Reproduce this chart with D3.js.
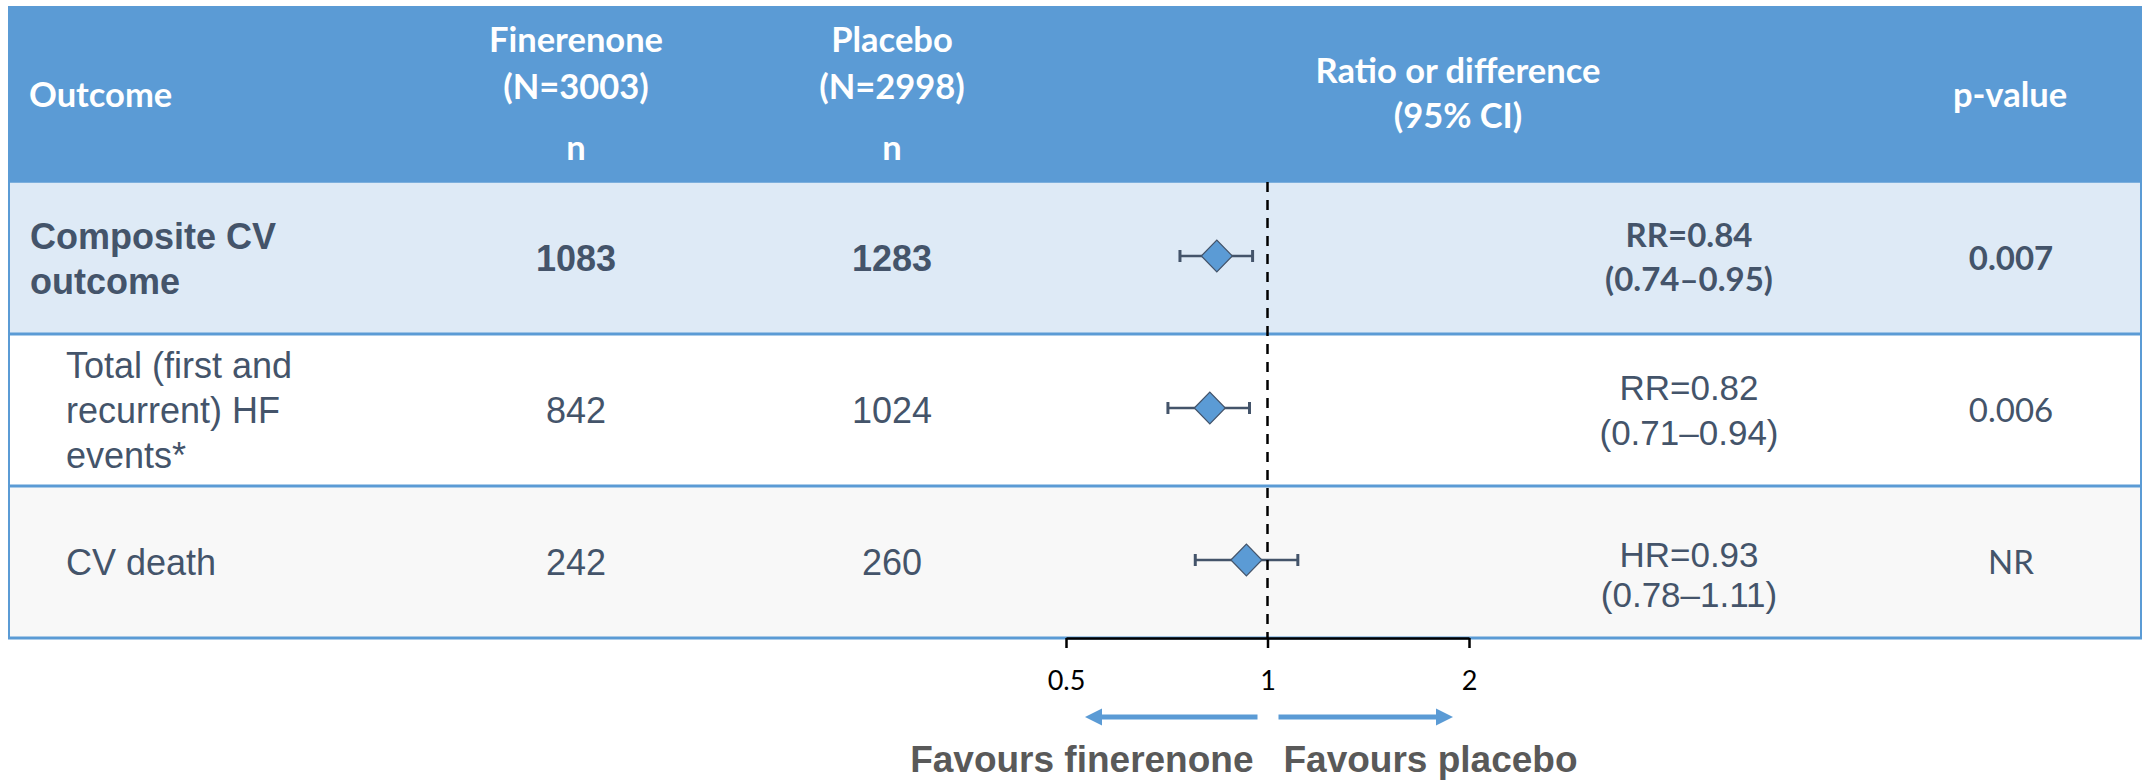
<!DOCTYPE html>
<html>
<head>
<meta charset="utf-8">
<script src="https://cdn.jsdelivr.net/npm/d3@7"></script>
<style>
  body { margin: 0; background: #ffffff; }
  svg { display: block; }
</style>
</head>
<body>
<svg id="chart" width="2146" height="781"></svg>
<script>
// ---- data ----
const outcomeLines   = [["Composite CV", "outcome"], ["Total (first and", "recurrent) HF", "events*"], ["CV death"]];
const finerenoneN    = [1083, 842, 242];
const placeboN       = [1283, 1024, 260];
const measureType    = ["RR", "RR", "HR"];
const estimate       = [0.84, 0.82, 0.93];
const ciLower        = [0.74, 0.71, 0.78];
const ciUpper        = [0.95, 0.94, 1.11];
const pValues        = ["0.007", "0.006", "NR"];
const axisTicks      = [0.5, 1, 2];
const finerenoneHead = ["Finerenone", "(N=3003)"];
const placeboHead    = ["Placebo", "(N=2998)"];
const effectHead     = ["Ratio or difference", "(95% CI)"];
const favourLabels   = ["Favours finerenone", "Favours placebo"];

// ---- layout ----
const W = 2146, H = 781;
const tableLeft = 8, tableRight = 2142;
const headTop = 6, headBottom = 182, tableBottom = 638;
const colFin = 576, colPla = 892, colEff = 1689, colP = 2011;
const headerBlue = "#5B9BD5", textDark = "#44546A";
const rowFill = ["#DEEAF6", "#FFFFFF", "#F8F8F8"];
const arial = "'Liberation Sans', Arial, sans-serif";
const calibri = "Lato, 'Open Sans', sans-serif";
// first-line baseline (relative to row middle) and line step of the effect-estimate cell
const effFirst = [-11, -10, 5];
const effStep  = [44, 45, 40];

const svg = d3.select("#chart");
svg.append("rect").attr("width", W).attr("height", H).attr("fill", "#ffffff");

const rows = d3.range(outcomeLines.length);
const y = d3.scaleBand().domain(rows).range([headBottom, tableBottom]);
const x = d3.scaleLog().domain([0.5, 2]).range([1066, 1469]);
const rowMid = i => y(i) + y.bandwidth() / 2;

// header band
svg.append("rect")
  .attr("x", tableLeft).attr("y", headTop)
  .attr("width", tableRight - tableLeft).attr("height", headBottom - headTop)
  .attr("fill", headerBlue);

const head = svg.append("g")
  .attr("fill", "#ffffff")
  .attr("font-family", calibri)
  .attr("font-weight", 700)
  .attr("font-size", 34.5);

head.append("text").attr("x", 29).attr("y", 107).text("Outcome");
[[colFin, finerenoneHead], [colPla, placeboHead]].forEach(([cx, lines]) => {
  lines.forEach((t, k) => head.append("text")
    .attr("x", cx).attr("y", 52 + k * 47).attr("text-anchor", "middle").text(t));
  head.append("text").attr("x", cx).attr("y", 160).attr("text-anchor", "middle").text("n");
});
effectHead.forEach((t, k) => head.append("text")
  .attr("x", 1458).attr("y", 83 + k * 45).attr("text-anchor", "middle").text(t));
head.append("text").attr("x", 2010).attr("y", 107).attr("text-anchor", "middle").text("p-value");

// row backgrounds
svg.append("g").selectAll("rect").data(rows).join("rect")
  .attr("x", tableLeft).attr("y", i => y(i))
  .attr("width", tableRight - tableLeft).attr("height", y.bandwidth())
  .attr("fill", i => rowFill[i]);

// table rules
const rules = svg.append("g").attr("stroke", headerBlue).attr("fill", "none");
rules.append("line").attr("x1", tableLeft).attr("x2", tableRight)
  .attr("y1", headBottom).attr("y2", headBottom).attr("stroke-width", 1.5);
rows.slice(1).forEach(i => rules.append("line")
  .attr("x1", tableLeft).attr("x2", tableRight)
  .attr("y1", y(i)).attr("y2", y(i)).attr("stroke-width", 3));
rules.append("line").attr("x1", tableLeft).attr("x2", tableRight)
  .attr("y1", tableBottom).attr("y2", tableBottom).attr("stroke-width", 3);
rules.append("line").attr("x1", tableLeft + 1).attr("x2", tableLeft + 1)
  .attr("y1", headBottom).attr("y2", tableBottom).attr("stroke-width", 2);
rules.append("line").attr("x1", tableRight - 1).attr("x2", tableRight - 1)
  .attr("y1", headBottom).attr("y2", tableBottom).attr("stroke-width", 2);

// row texts
const body = svg.append("g").attr("fill", textDark);
rows.forEach(i => {
  const bold = i === 0 ? 700 : 400;
  const mid = rowMid(i);
  const lines = outcomeLines[i];
  lines.forEach((t, k) => body.append("text")
    .attr("x", i === 0 ? 30 : 66)
    .attr("y", mid - (lines.length - 1) * 45 / 2 + 13 + k * 45)
    .attr("font-family", arial).attr("font-size", 36).attr("font-weight", bold)
    .text(t));
  [[colFin, finerenoneN[i]], [colPla, placeboN[i]]].forEach(([cx, v]) => body.append("text")
    .attr("x", cx).attr("y", mid + 13).attr("text-anchor", "middle")
    .attr("font-family", arial).attr("font-size", 36).attr("font-weight", bold)
    .text(v));

  // effect estimate with its 95% CI on a second line
  const effLines = [`${measureType[i]}=${estimate[i].toFixed(2)}`,
                    `(${ciLower[i].toFixed(2)}\u2013${ciUpper[i].toFixed(2)})`];
  const eff = body.append("text")
    .attr("x", colEff).attr("y", mid + effFirst[i]).attr("text-anchor", "middle")
    .attr("font-family", i === 0 ? calibri : arial)
    .attr("font-size", i === 0 ? 33 : 35).attr("font-weight", bold);
  effLines.forEach((t, k) => eff.append("tspan")
    .attr("x", colEff).attr("dy", k === 0 ? 0 : effStep[i]).text(t));

  body.append("text")
    .attr("x", colP).attr("y", mid + 12).attr("text-anchor", "middle")
    .attr("font-family", calibri).attr("font-size", 33).attr("font-weight", bold)
    .text(pValues[i]);
});

// confidence intervals and point estimates
const forest = svg.append("g");
rows.forEach(i => {
  const cy = rowMid(i) - 2;
  const g = forest.append("g").attr("stroke", textDark);
  g.append("line").attr("x1", x(ciLower[i])).attr("x2", x(ciUpper[i]))
    .attr("y1", cy).attr("y2", cy).attr("stroke-width", 2.5);
  [ciLower[i], ciUpper[i]].forEach(v => g.append("line")
    .attr("x1", x(v)).attr("x2", x(v)).attr("y1", cy - 6).attr("y2", cy + 6)
    .attr("stroke-width", 3));
  const cx = x(estimate[i]);
  g.append("path")
    .attr("d", `M${cx - 15.5},${cy} L${cx},${cy - 16} L${cx + 15.5},${cy} L${cx},${cy + 16} Z`)
    .attr("fill", headerBlue).attr("stroke-width", 1.2);
});

// line of no effect
svg.append("line")
  .attr("x1", x(1)).attr("x2", x(1)).attr("y1", headBottom).attr("y2", tableBottom)
  .attr("stroke", "#000").attr("stroke-width", 2.5).attr("stroke-dasharray", "10,8");

// log axis
const axis = svg.append("g")
  .attr("transform", `translate(0,${tableBottom})`)
  .call(d3.axisBottom(x).tickValues(axisTicks).tickFormat(d3.format("")).tickSize(10).tickSizeOuter(0).tickPadding(23));
axis.select(".domain").attr("stroke", "#000").attr("stroke-width", 2.5);
axis.selectAll(".tick line").attr("stroke", "#000").attr("stroke-width", 2.5);
axis.selectAll(".tick text").attr("fill", "#000")
  .attr("font-family", calibri).attr("font-size", 27);

// direction arrows
const arrowY = 717;
const arrows = svg.append("g").attr("fill", headerBlue).attr("stroke", headerBlue);
function arrow(from, tip) {
  const dir = Math.sign(tip - from);
  arrows.append("line").attr("x1", from).attr("x2", tip - dir * 14)
    .attr("y1", arrowY).attr("y2", arrowY).attr("stroke-width", 5);
  arrows.append("path").attr("stroke", "none")
    .attr("d", `M${tip},${arrowY} L${tip - dir * 17},${arrowY - 8.5} L${tip - dir * 17},${arrowY + 8.5} Z`);
}
arrow(x(1) - 10, x(0.5) + 19);
arrow(x(1) + 11, x(2) - 16);

// direction labels
const fav = svg.append("g").attr("fill", "#595959")
  .attr("font-family", arial).attr("font-weight", 700).attr("font-size", 37);
fav.append("text").attr("x", x(1) - 14).attr("y", 772).attr("text-anchor", "end").text(favourLabels[0]);
fav.append("text").attr("x", x(1) + 16).attr("y", 772).attr("text-anchor", "start").text(favourLabels[1]);
</script>
</body>
</html>
